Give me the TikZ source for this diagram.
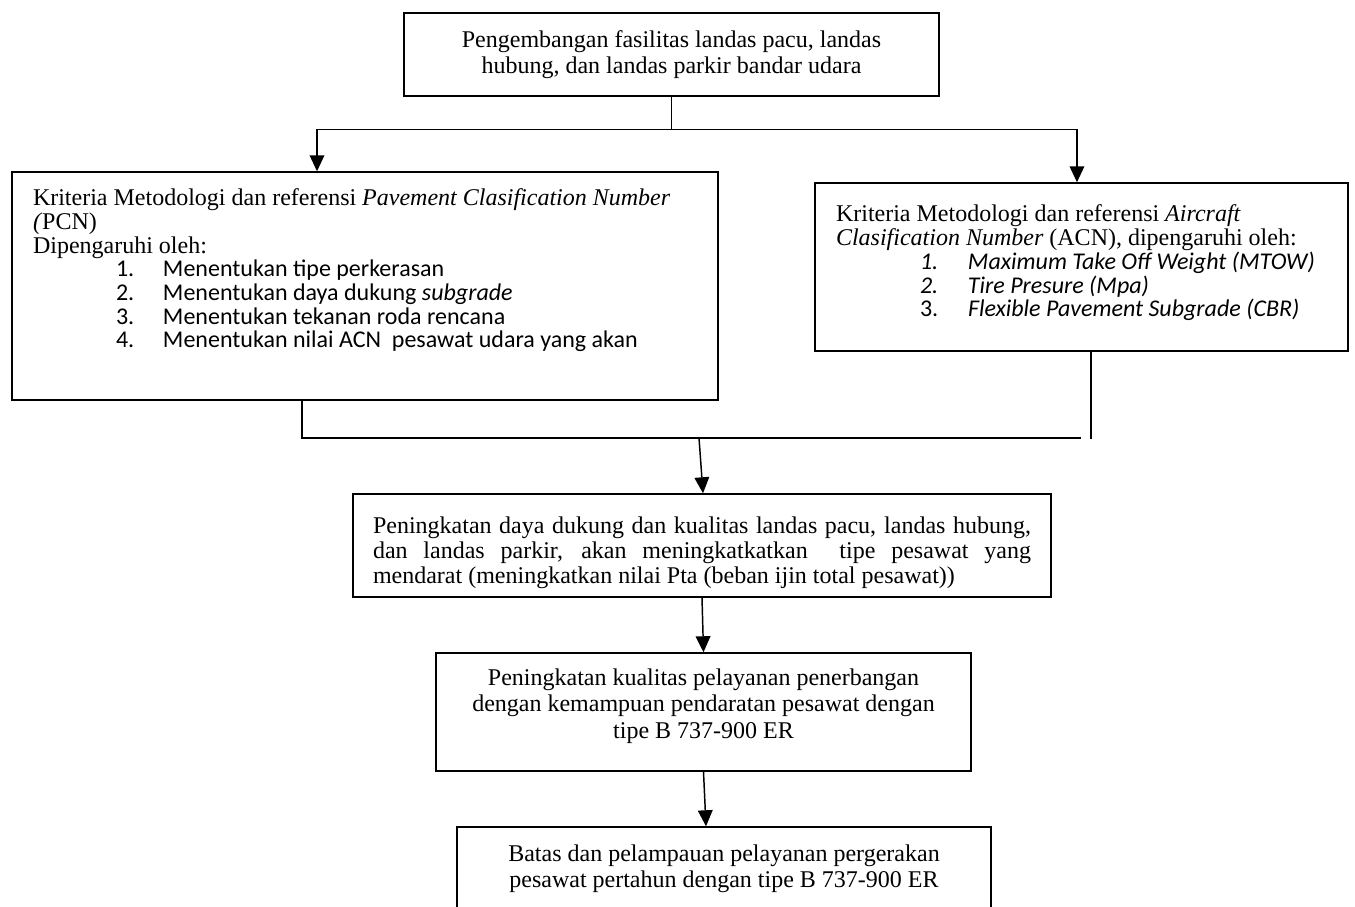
\documentclass[tikz,border=0pt]{standalone}
\usepackage{fontspec}
\setmainfont{Liberation Serif}
\newfontfamily\listfont{Carlito}
\usetikzlibrary{arrows.meta,positioning,calc}

\begin{document}
\begin{tikzpicture}[x=0.75pt,y=-0.75pt,>={Triangle[length=12pt,width=11pt]},
 line width=1.1pt,font=\fontsize{18}{20}\selectfont,
 box/.style={draw,line width=1.1pt,inner sep=0pt,align=center},
 boxtext/.style={anchor=north west,inner sep=0pt,align=left,font=\fontsize{18}{17.8}\selectfont}]
\useasboundingbox (0,0) rectangle (1355,906);
\node[box,minimum width=401.25pt,minimum height=62.25pt] (dev) at (671.5,54.5)
 {Pengembangan fasilitas landas pacu, landas\\ hubung, dan landas parkir bandar udara};
\node[box,minimum width=529.5pt,minimum height=171pt] (pcn) at (365,286) {};
\node[boxtext] (pcntext) at ([xshift=15.75pt,yshift=-12.5pt]pcn.north west)
 {Kriteria Metodologi dan referensi \textit{Pavement Clasification Number}\\
 \textit{(}PCN)\\
 Dipengaruhi oleh:\\
 {\listfont\hspace*{62.25pt}\makebox[35.25pt][l]{1.}Menentukan tipe perkerasan}\\
 {\listfont\hspace*{62.25pt}\makebox[35.25pt][l]{2.}Menentukan daya dukung \textit{subgrade}}\\
 {\listfont\hspace*{62.25pt}\makebox[35.25pt][l]{3.}Menentukan tekanan roda rencana}\\
 {\listfont\hspace*{62.25pt}\makebox[35.25pt][l]{4.}Menentukan nilai ACN~ pesawat udara yang akan}};
\node[box,minimum width=399.75pt,minimum height=126pt] (acn) at (1081.5,267) {};
\node[boxtext] (acntext) at ([xshift=15.75pt,yshift=-16.5pt]acn.north west)
 {Kriteria Metodologi dan referensi \textit{Aircraft}\\
 \textit{Clasification Number} (ACN), dipengaruhi oleh:\\
 {\listfont\hspace*{63pt}\makebox[36pt][l]{\itshape 1.}\textit{Maximum Take Off Weight (MTOW)}}\\
 {\listfont\hspace*{63pt}\makebox[36pt][l]{\itshape 2.}\textit{Tire Presure (Mpa)}}\\
 {\listfont\hspace*{63pt}\makebox[36pt][l]{3.}\textit{Flexible Pavement Subgrade (CBR)}}};
\node[box,minimum width=523.5pt,minimum height=77.25pt,text width=493.5pt,align=justify,
 font=\fontsize{18}{18.75}\selectfont] (impr) at (702,545.5)
 {\rule{0pt}{24pt}Peningkatan daya dukung dan kualitas landas pacu, landas hubung,\linebreak
 dan landas parkir, akan meningkatkatkan~ tipe pesawat yang\linebreak
 mendarat (meningkatkan nilai Pta (beban ijin total pesawat))};
\node[box,minimum width=401.25pt,minimum height=88.5pt] (serv) at (703.5,712)
 {Peningkatan kualitas pelayanan penerbangan\\ dengan kemampuan pendaratan pesawat dengan\\ tipe B 737-900 ER\rule[-13pt]{0pt}{0pt}};
\node[box,minimum width=400.5pt,minimum height=62.25pt,font=\fontsize{18}{19.5}\selectfont] (limit) at (724,868.5)
 {Batas dan pelampauan pelayanan pergerakan\\ pesawat pertahun dengan tipe B 737-900 ER};
% fork below the top box
\draw (dev.south) -- ++(0,33) coordinate (fork);
\draw[->] (fork) -| ([xshift=-36pt]pcn.north);
\draw[->] (fork) -| ([xshift=-3.4pt]acn.north);
% join below the two criteria boxes
\coordinate (join) at (699,438);
\coordinate (joinR) at (1081,438);
\draw ([xshift=-47.25pt]pcn.south) |- (joinR);
\draw ([xshift=7.1pt]acn.south) -- ++(0,87);
\draw[->] (join) -- ([xshift=0.75pt]impr.north);
\draw[->] (impr.south) -- (serv.north);
\draw[->] (serv.south) -- ([xshift=-13.5pt]limit.north);
\end{tikzpicture}
\end{document}
